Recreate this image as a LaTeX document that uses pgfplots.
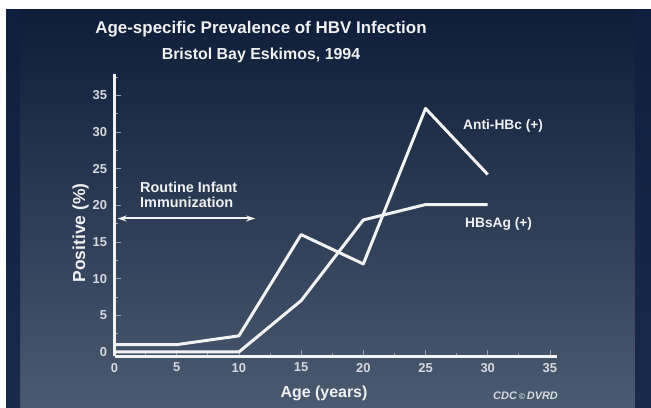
\documentclass[border=0pt]{standalone}
\usepackage{pgfplots}
\pgfplotsset{compat=1.18}
\usepackage{fontspec}
\setmainfont{Liberation Sans}
\usetikzlibrary{arrows.meta}
\definecolor{bgtop}{HTML}{0E1D38}
\definecolor{bgbot}{HTML}{4A5A70}
\definecolor{striptop}{HTML}{0F203E}
\definecolor{stripbot}{HTML}{172A4A}
\definecolor{linec}{HTML}{F2F3F5}
\definecolor{titlec}{HTML}{EEF0F2}
\definecolor{tickl}{HTML}{D6DAE0}
\definecolor{tickc}{HTML}{9AA4B2}
\begin{document}
\begin{tikzpicture}[x=1bp,y=1bp]
\useasboundingbox (0,0) rectangle (651,407);
\fill[white] (0,0) rectangle (651,407);
\shade[top color=bgtop, bottom color=bgbot] (6,0) rectangle (651,397);
\shade[top color=striptop, bottom color=stripbot] (6,0) rectangle (20,397);
\shade[top color=striptop, bottom color=stripbot] (635,0) rectangle (651,397);
\node[anchor=base, text=titlec, font=\bfseries\fontsize{17}{20}\selectfont, inner sep=0] at (261,374) {Age-specific Prevalence of HBV Infection};
\node[anchor=base, text=titlec, font=\bfseries\fontsize{16}{19}\selectfont, inner sep=0] at (261,348) {Bristol Bay Eskimos, 1994};
\begin{axis}[
  at={(114.5bp,51bp)}, anchor=south west,
  scale only axis, width=442.9bp, height=282bp,
  xmin=0, xmax=35.6, ymin=-0.55, ymax=37.9,
  axis x line*=bottom, axis y line*=left,
  axis line style={line width=3bp, draw=linec},
  xtick={0,5,...,35}, ytick={0,5,...,35},
  minor xtick={2.5,7.5,...,32.5}, minor ytick={2.5,7.5,...,37.5},
  tick align=inside,
  major tick length=6bp, minor tick length=3bp,
  tick style={draw=tickc, line width=0.8bp},
  ticklabel style={font=\bfseries\fontsize{13}{15}\selectfont, text=tickl},
  xticklabel style={yshift=-3.5bp},
  yticklabel style={xshift=-4bp},
  /pgf/number format/assume math mode=true,
  clip=false,
]
\addplot[draw=linec, line width=3bp, line join=round] coordinates {(0,1) (5,1) (10,2.2) (15,16) (20,12) (25,33.2) (30,24.2)};
\addplot[draw=linec, line width=3bp, line join=round] coordinates {(0,0) (5,0) (10,0) (15,7) (20,18) (25,20.1) (30,20.1)};
\draw[draw=linec, line width=2bp, {Stealth[length=9bp,width=6bp]}-{Stealth[length=9bp,width=6bp]}] (axis cs:0.25,18.2) -- (axis cs:11.3,18.2);
\end{axis}
\node[anchor=base, text=titlec, font=\bfseries\fontsize{16}{18}\selectfont, inner sep=0] at (324,10) {Age (years)};
\node[anchor=base, rotate=90, text=titlec, font=\bfseries\fontsize{17.5}{20}\selectfont, inner sep=0] at (85,174) {Positive (\%)};
\node[anchor=base west, align=left, text=titlec, font=\bfseries\fontsize{14.5}{16}\selectfont, inner sep=0] at (140,215) {Routine Infant};
\node[anchor=base west, align=left, text=titlec, font=\bfseries\fontsize{14.5}{16}\selectfont, inner sep=0] at (140,200) {Immunization};
\node[anchor=base west, text=titlec, font=\bfseries\fontsize{13.8}{15}\selectfont, inner sep=0] at (463,278) {Anti-HBc (+)};
\node[anchor=base west, text=titlec, font=\bfseries\fontsize{13.8}{15}\selectfont, inner sep=0] at (465,180) {HBsAg (+)};
\node[anchor=base west, text=tickl, font=\bfseries\itshape\fontsize{11}{12}\selectfont, inner sep=0] at (493,8) {CDC\,{\fontsize{8.5}{8.5}\selectfont\textcopyright}\,DVRD};
\end{tikzpicture}
\end{document}
